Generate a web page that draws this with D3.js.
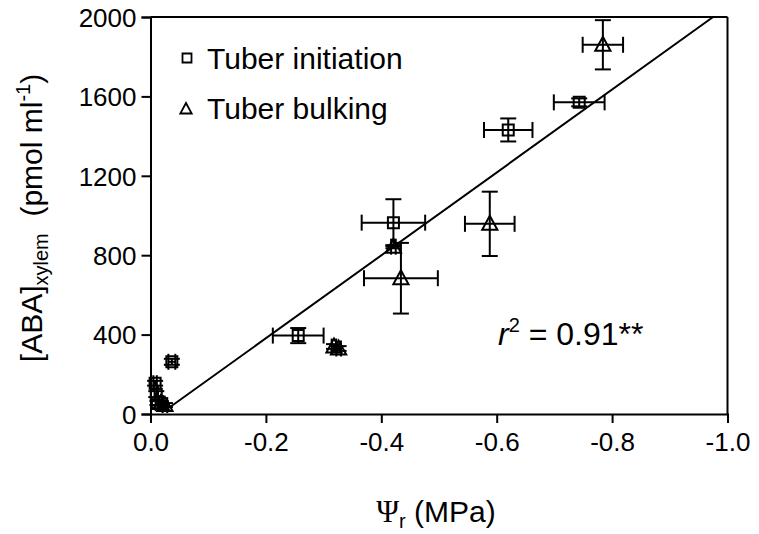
<!DOCTYPE html>
<html>
<head>
<meta charset="utf-8">
<script src="https://cdn.jsdelivr.net/npm/d3@7"></script>
<style>
body { margin: 0; background: #fff; }
text { font-family: 'Liberation Sans', Arial, sans-serif; fill: #000; }
</style>
</head>
<body>
<script>
// Tuber initiation (squares)
var initPsi = [-0.008, -0.010, -0.012, -0.037, -0.256, -0.421, -0.620, -0.743];
var initAba = [155, 100, 55, 263, 395, 964, 1431, 1570];
var initPsiErr = [0.003, 0.003, 0.003, 0.006, 0.044, 0.055, 0.042, 0.044];
var initAbaErr = [12, 15, 10, 15, 38, 118, 58, 20];

// Tuber bulking (triangles)
var bulkPsi = [-0.018, -0.025, -0.318, -0.326, -0.421, -0.434, -0.588, -0.784];
var bulkAba = [55, 45, 340, 330, 843, 684, 958, 1860];
var bulkPsiErr = [0.004, 0.004, 0.004, 0.004, 0.004, 0.064, 0.043, 0.035];
var bulkAbaErr = [10, 10, 12, 12, 8, 178, 162, 124];

// regression line ABA = slope * psi + intercept
var regSlope = -2088;
var regIntercept = -36;
var regRange = [-0.034, -0.975];

var xTicks = [0, -0.2, -0.4, -0.6, -0.8, -1.0];
var yTicks = [0, 400, 800, 1200, 1600, 2000];
var legendLabels = ['Tuber initiation', 'Tuber bulking'];

function toPoints(xs, ys, xe, ye) {
	return xs.map(function(x, i) {
		return { x: x, y: ys[i], xe: xe[i], ye: ye[i] };
	});
}

var initData = toPoints(initPsi, initAba, initPsiErr, initAbaErr);
var bulkData = toPoints(bulkPsi, bulkAba, bulkPsiErr, bulkAbaErr);

var width = 759, height = 534;
var plotLeft = 150.5, plotRight = 727.5, plotTop = 17, plotBottom = 414;

var x = d3.scaleLinear().domain([0, -1]).range([plotLeft, plotRight]);
var y = d3.scaleLinear().domain([0, 2000]).range([plotBottom, plotTop]);

var svg = d3.select('body').append('svg').attr('width', width).attr('height', height);

// axes
var xAxis = d3.axisBottom(x).tickValues(xTicks).tickSize(9).tickPadding(8)
	.tickFormat(function(d) { return d === 0 ? '0.0' : d3.format('.1f')(d).replace('−', '-'); });
var yAxis = d3.axisLeft(y).tickValues(yTicks).tickSize(9).tickPadding(5)
	.tickFormat(d3.format('d'));

var gx = svg.append('g').attr('transform', 'translate(0,' + plotBottom + ')').call(xAxis);
var gy = svg.append('g').attr('transform', 'translate(' + plotLeft + ',0)').call(yAxis);
[gx, gy].forEach(function(g) {
	g.select('.domain').attr('stroke', '#000').attr('stroke-width', 2);
	g.selectAll('.tick line').attr('stroke', '#000').attr('stroke-width', 2);
	g.selectAll('.tick text').attr('font-size', '26px').attr('fill', '#000')
		.style('font-family', "'Liberation Sans', Arial, sans-serif");
});
gx.selectAll('.tick text').attr('dy', '0.75em');
gy.selectAll('.tick text').attr('dy', '0.36em');

// frame top and right
svg.append('line').attr('x1', plotLeft).attr('x2', plotRight).attr('y1', plotTop).attr('y2', plotTop)
	.attr('stroke', '#000').attr('stroke-width', 2);
svg.append('line').attr('x1', plotRight).attr('x2', plotRight).attr('y1', plotTop).attr('y2', plotBottom)
	.attr('stroke', '#000').attr('stroke-width', 2);

// regression line
svg.append('line')
	.attr('x1', x(regRange[0])).attr('y1', y(regSlope * regRange[0] + regIntercept))
	.attr('x2', x(regRange[1])).attr('y2', y(regSlope * regRange[1] + regIntercept))
	.attr('stroke', '#000').attr('stroke-width', 2);

// error bars
var cap = 8;
function drawErrors(data) {
	var g = svg.append('g').attr('stroke', '#000').attr('stroke-width', 2).attr('fill', 'none');
	data.forEach(function(d) {
		var cx = x(d.x), cy = y(d.y);
		var x0 = x(d.x - d.xe), x1 = x(d.x + d.xe);
		var y0 = y(d.y - d.ye), y1 = y(d.y + d.ye);
		g.append('line').attr('x1', x0).attr('x2', x1).attr('y1', cy).attr('y2', cy);
		g.append('line').attr('x1', x0).attr('x2', x0).attr('y1', cy - cap).attr('y2', cy + cap);
		g.append('line').attr('x1', x1).attr('x2', x1).attr('y1', cy - cap).attr('y2', cy + cap);
		g.append('line').attr('x1', cx).attr('x2', cx).attr('y1', y0).attr('y2', y1);
		g.append('line').attr('x1', cx - cap).attr('x2', cx + cap).attr('y1', y0).attr('y2', y0);
		g.append('line').attr('x1', cx - cap).attr('x2', cx + cap).attr('y1', y1).attr('y2', y1);
	});
}
drawErrors(initData);
drawErrors(bulkData);

// markers
function squarePath(s) {
	return 'M' + (-s) + ',' + (-s) + 'H' + s + 'V' + s + 'H' + (-s) + 'Z';
}
function trianglePath(s) {
	return 'M0,' + (-s) + 'L' + (s * 0.95) + ',' + (s * 0.75) + 'L' + (-s * 0.95) + ',' + (s * 0.75) + 'Z';
}

svg.append('g').selectAll('path').data(initData).enter().append('path')
	.attr('d', squarePath(5.5))
	.attr('transform', function(d) { return 'translate(' + x(d.x) + ',' + y(d.y) + ')'; })
	.attr('fill', 'none').attr('stroke', '#000').attr('stroke-width', 2);

svg.append('g').selectAll('path').data(bulkData).enter().append('path')
	.attr('d', trianglePath(8))
	.attr('transform', function(d) { return 'translate(' + x(d.x) + ',' + y(d.y) + ')'; })
	.attr('fill', 'none').attr('stroke', '#000').attr('stroke-width', 2);

// legend
var legend = svg.append('g');
legend.append('path').attr('d', squarePath(4.5))
	.attr('transform', 'translate(187,58)')
	.attr('fill', 'none').attr('stroke', '#000').attr('stroke-width', 1.8);
legend.append('path').attr('d', trianglePath(6))
	.attr('transform', 'translate(186,109)')
	.attr('fill', 'none').attr('stroke', '#000').attr('stroke-width', 1.8);
legend.selectAll('text').data(legendLabels).enter().append('text')
	.attr('x', 207).attr('y', function(d, i) { return 69 + i * 50; })
	.attr('font-size', '30px').text(function(d) { return d; });

// r squared
var r2 = svg.append('text').attr('x', 498).attr('y', 345).attr('font-size', '32px');
r2.append('tspan').attr('font-style', 'italic').text('r');
r2.append('tspan').attr('dy', -13).attr('font-size', '20px').text('2');
r2.append('tspan').attr('dy', 13).text(' = 0.91**');

// x title
var xt = svg.append('text').attr('x', 436).attr('y', 522).attr('text-anchor', 'middle').attr('font-size', '30px');
xt.append('tspan').style('font-family', "'Liberation Serif', 'DejaVu Serif', serif").attr('font-size', '31px').text('Ψ');
xt.append('tspan').attr('dy', 6).attr('font-size', '20px').text('r');
xt.append('tspan').attr('dy', -6).text(' (MPa)');

// y title
var yt = svg.append('text').attr('transform', 'translate(42,218) rotate(-90)')
	.attr('text-anchor', 'middle').attr('font-size', '30px');
yt.append('tspan').text('[ABA]');
yt.append('tspan').attr('dy', 6).attr('font-size', '20px').text('xylem');
yt.append('tspan').attr('dy', -6).attr('xml:space', 'preserve').text('  (pmol ml');
yt.append('tspan').attr('dy', -12).attr('font-size', '20px').text('-1');
yt.append('tspan').attr('dy', 12).text(')');
</script>
</body>
</html>
